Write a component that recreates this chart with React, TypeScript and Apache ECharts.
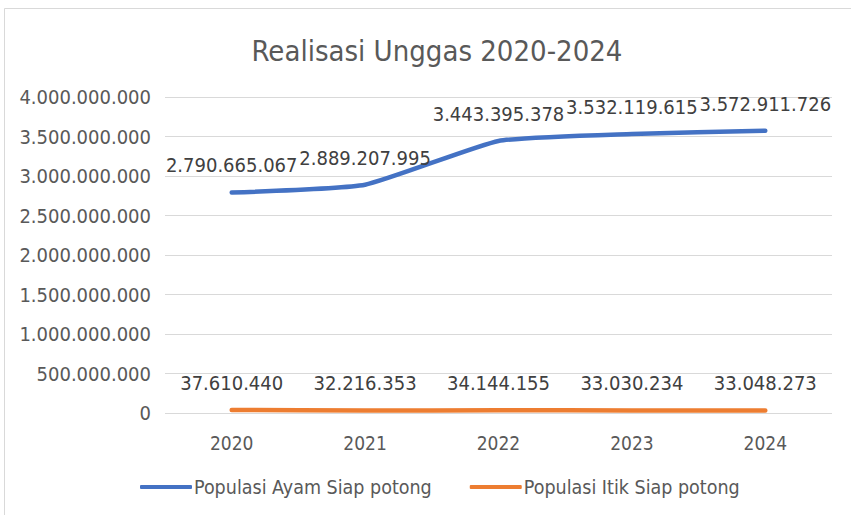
import React, { useEffect, useRef } from "react";
import * as echarts from "echarts";

const categories = ["2020", "2021", "2022", "2023", "2024"];
const ayam = [2790665067, 2889207995, 3443395378, 3532119615, 3572911726];
const itik = [37610440, 32216353, 34144155, 33030234, 33048273];
const seriesNames = ["Populasi Ayam Siap potong", "Populasi Itik Siap potong"];
const titleText = "Realisasi Unggas 2020-2024";

const fmt = (v: number) => String(Math.round(v)).replace(/\B(?=(\d{3})+(?!\d))/g, ".");
const FONT = "'DejaVu Sans Condensed', 'Liberation Sans Narrow', 'Open Sans', sans-serif";

export default function App() {
  const ref = useRef<HTMLDivElement>(null);
  useEffect(() => {
    if (!ref.current) return;
    const chart = echarts.init(ref.current, null, { renderer: "svg" });
    const labelStyle = {
      show: true,
      position: "top",
      distance: 17,
      fontFamily: FONT,
      fontSize: 20,
      color: "#404040",
      formatter: (p: any) => fmt(p.value),
    };
    chart.setOption({
      animation: false,
      backgroundColor: "#ffffff",
      textStyle: { fontFamily: FONT },
      title: {
        text: titleText,
        left: 432,
        top: 31,
        textAlign: "center",
        textStyle: { fontFamily: FONT, fontSize: 29, fontWeight: "normal", color: "#595959" },
      },
      graphic: [
        {
          type: "rect",
          shape: { x: 4.5, y: 8.5, width: 860, height: 520 },
          style: { fill: "none", stroke: "#d9d9d9", lineWidth: 1 },
          silent: true,
        },
      ],
      legend: {
        bottom: 13,
        left: 135,
        itemWidth: 52,
        itemHeight: 4,
        itemGap: 38,
        icon: "roundRect",
        textStyle: { fontFamily: FONT, fontSize: 19.5, color: "#595959", padding: [0, 0, 0, -3] },
        data: seriesNames,
      },
      grid: { left: 165, right: 19, top: 97, bottom: 102 },
      xAxis: {
        type: "category",
        data: categories,
        boundaryGap: true,
        axisLine: { show: false },
        axisTick: { show: false },
        axisLabel: { fontFamily: FONT, fontSize: 19, color: "#595959", margin: 20 },
      },
      yAxis: {
        type: "value",
        min: 0,
        max: 4000000000,
        interval: 500000000,
        axisLine: { show: false },
        axisTick: { show: false },
        splitLine: { lineStyle: { color: "#d9d9d9", width: 1 } },
        axisLabel: {
          fontFamily: FONT,
          fontSize: 20,
          color: "#595959",
          margin: 14,
          formatter: (v: number) => fmt(v),
        },
      },
      series: [
        {
          name: seriesNames[0],
          type: "line",
          data: ayam,
          smooth: 0.15,
          symbol: "circle",
          symbolSize: 0.1,
          showSymbol: true,
          lineStyle: { color: "#4472c4", width: 4.5, cap: "round" },
          itemStyle: { color: "#4472c4" },
          label: labelStyle,
        },
        {
          name: seriesNames[1],
          type: "line",
          data: itik,
          smooth: 0.15,
          symbol: "circle",
          symbolSize: 0.1,
          showSymbol: true,
          lineStyle: { color: "#ed7d31", width: 4.5, cap: "round" },
          itemStyle: { color: "#ed7d31" },
          label: labelStyle,
        },
      ],
    });
    return () => chart.dispose();
  }, []);
  return (
    <div
      ref={ref}
      style={{ position: "absolute", left: 0, top: 0, width: 851, height: 515 }}
    />
  );
}
